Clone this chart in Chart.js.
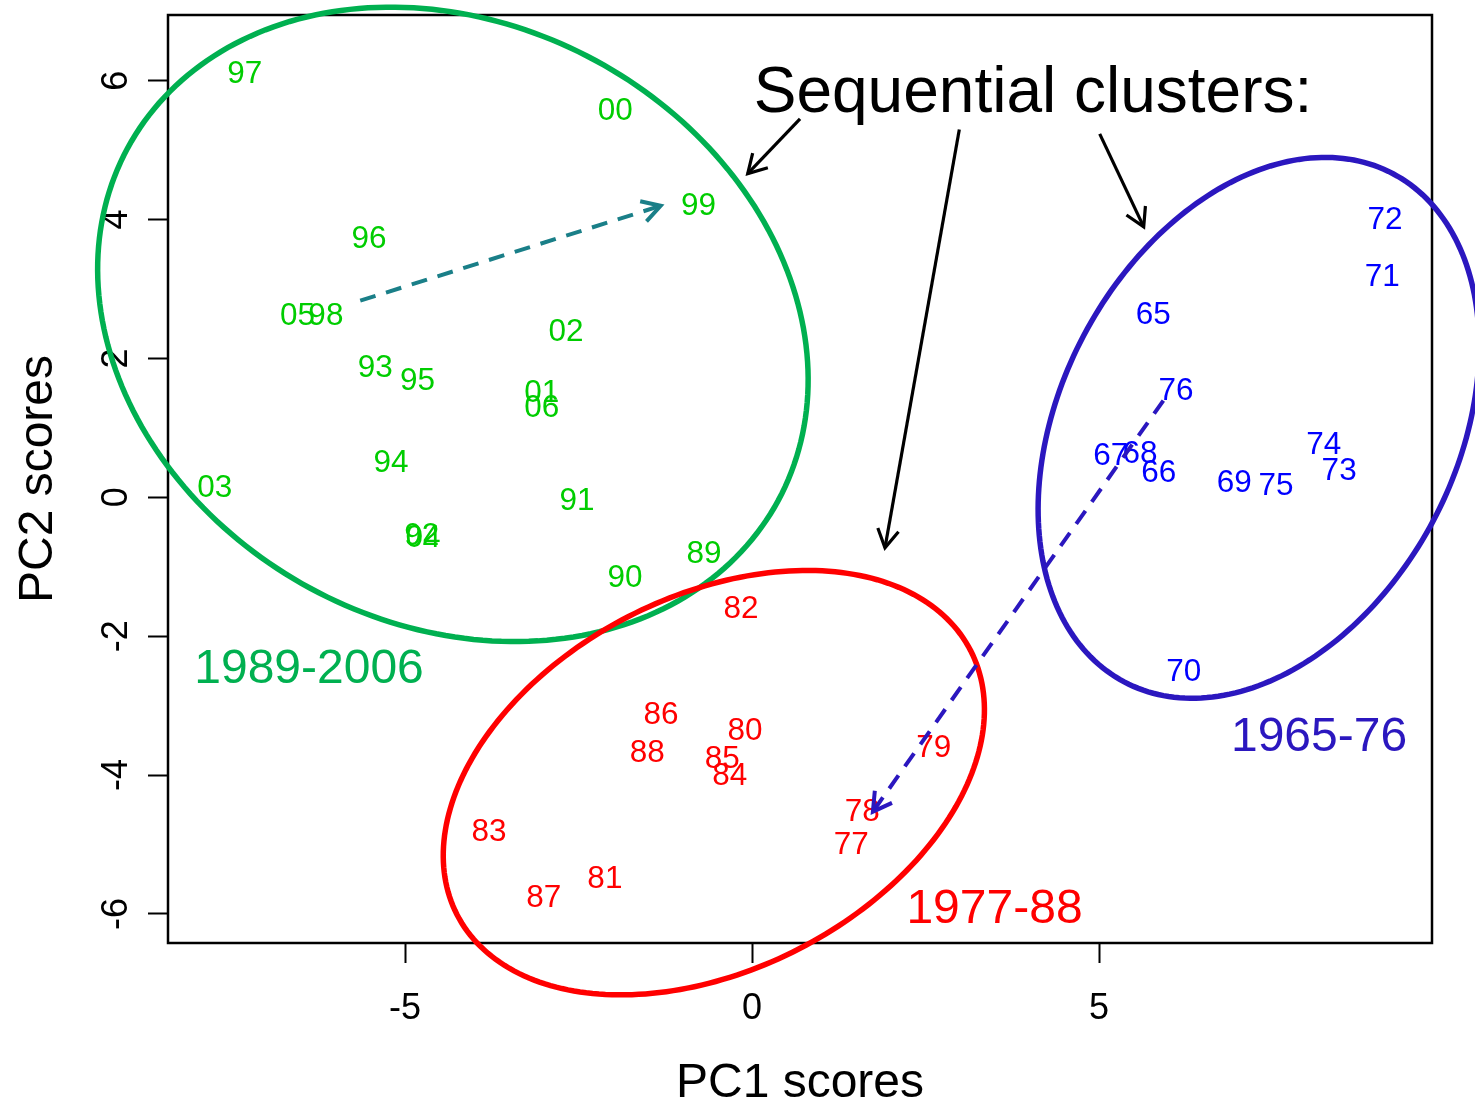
<!DOCTYPE html>
<html>
<head>
<meta charset="utf-8">
<title>PCA scores by year</title>
<script src="https://cdn.jsdelivr.net/npm/chart.js@4.4.1/dist/chart.umd.min.js"></script>
<style>
    html, body { margin: 0; padding: 0; background: #ffffff; }
    #pcaChart { display: block; }
</style>
</head>
<body>
<canvas id="pcaChart" width="1475" height="1102"></canvas>
<script>
// ==================================================
// DATA
// ==================================================
// 1989-2006
const recentYears = ["97", "00", "99", "96", "05", "98", "02", "93", "95", "01", "06", "94", "03", "91", "92", "04", "89", "90"];
const recentPC1 = [-7.31, -1.97, -0.77, -5.52, -6.55, -6.14, -2.68, -5.43, -4.82, -3.03, -3.03, -5.20, -7.74, -2.52, -4.76, -4.74, -0.69, -1.83];
const recentPC2 = [6.13, 5.60, 4.23, 3.75, 2.64, 2.64, 2.41, 1.89, 1.71, 1.53, 1.32, 0.52, 0.16, -0.02, -0.53, -0.55, -0.78, -1.13];

// 1977-88
const middleYears = ["82", "86", "80", "88", "85", "84", "79", "78", "77", "83", "81", "87"];
const middlePC1 = [-0.16, -1.31, -0.10, -1.51, -0.43, -0.32, 2.62, 1.59, 1.43, -3.79, -2.12, -3.00];
const middlePC2 = [-1.58, -3.10, -3.34, -3.65, -3.74, -3.98, -3.58, -4.50, -4.98, -4.79, -5.47, -5.74];

// 1965-76
const earlyYears = ["72", "71", "65", "76", "67", "68", "66", "69", "75", "74", "73", "70"];
const earlyPC1 = [9.12, 9.08, 5.78, 6.11, 5.17, 5.59, 5.86, 6.95, 7.55, 8.24, 8.46, 6.22];
const earlyPC2 = [4.03, 3.21, 2.66, 1.56, 0.63, 0.66, 0.38, 0.24, 0.19, 0.79, 0.41, -2.49];

// axis ticks and limits
const xTicks = [-5, 0, 5];
const yTicks = [-6, -4, -2, 0, 2, 4, 6];
const xLimits = [-8.415, 9.798];
const yLimits = [-6.419, 6.945];

// cluster ellipses: centre, semi-axes, tilt (degrees, anticlockwise)
const ellipseCx = [-4.31, -0.55, 7.30];
const ellipseCy = [2.49, -4.11, 1.00];
const ellipseRx = [5.33, 4.16, 4.14];
const ellipseRy = [4.32, 2.69, 2.85];
const ellipseTilt = [-28.4, 27.2, 62.1];

// period labels
const periodNames = ["1989-2006", "1977-88", "1965-76"];
const periodX = [-6.383, 3.494, 8.170];
const periodY = [-2.673, -6.131, -3.653];

// trend arrows (start -> end) inside clusters, and callout arrows
const trendFrom = [[-5.645, 2.831], [5.927, 1.393]];
const trendTo = [[-1.316, 4.197], [1.742, -4.527]];
const calloutFrom = [[0.692, 5.450], [2.987, 5.295], [5.010, 5.233]];
const calloutTo = [[-0.062, 4.661], [1.916, -0.728], [5.644, 3.893]];
const calloutText = "Sequential clusters:";
const calloutPos = [4.049, 5.555];

// ==================================================
// STYLE
// ==================================================
const FONT = '"Liberation Sans", Arial, Helvetica, sans-serif';
const labelColors = ["#00cd00", "#ff0000", "#0000ff"];
const ellipseColors = ["#00b050", "#ff0000", "#2b17bf"];
const trendColors = ["#1a7f88", "#2b17bf"];

function toPoints(xs, ys) {
    return xs.map((x, i) => ({ x: x, y: ys[i] }));
}

// ==================================================
// DRAWING HELPERS
// ==================================================
function drawArrow(ctx, x0, y0, x1, y1, color, width, dash) {
    ctx.save();
    ctx.strokeStyle = color;
    ctx.lineWidth = width;
    ctx.lineCap = "butt";
    ctx.setLineDash(dash || []);
    ctx.beginPath();
    ctx.moveTo(x0, y0);
    ctx.lineTo(x1, y1);
    ctx.stroke();

    // open arrow head, 30 degrees each side
    const ang = Math.atan2(y1 - y0, x1 - x0);
    const len = 21;
    ctx.setLineDash([]);
    ctx.lineJoin = "miter";
    ctx.beginPath();
    ctx.moveTo(x1 - len * Math.cos(ang - Math.PI / 6), y1 - len * Math.sin(ang - Math.PI / 6));
    ctx.lineTo(x1, y1);
    ctx.lineTo(x1 - len * Math.cos(ang + Math.PI / 6), y1 - len * Math.sin(ang + Math.PI / 6));
    ctx.stroke();
    ctx.restore();
}

function drawEllipse(ctx, xs, ys, i) {
    const phi = ellipseTilt[i] * Math.PI / 180;
    const steps = 240;
    ctx.save();
    ctx.strokeStyle = ellipseColors[i];
    ctx.lineWidth = 5.5;
    ctx.beginPath();
    for (let k = 0; k <= steps; k++) {
        const t = (k / steps) * Math.PI * 2;
        const ex = ellipseCx[i] + ellipseRx[i] * Math.cos(t) * Math.cos(phi) - ellipseRy[i] * Math.sin(t) * Math.sin(phi);
        const ey = ellipseCy[i] + ellipseRx[i] * Math.cos(t) * Math.sin(phi) + ellipseRy[i] * Math.sin(t) * Math.cos(phi);
        const px = xs.getPixelForValue(ex);
        const py = ys.getPixelForValue(ey);
        if (k === 0) ctx.moveTo(px, py); else ctx.lineTo(px, py);
    }
    ctx.closePath();
    ctx.stroke();
    ctx.restore();
}

// ==================================================
// PLUGIN: frame, axis text, year labels, overlays
// ==================================================
const pcaPlugin = {
    id: "pcaPlugin",
    beforeDraw(chart) {
        const ctx = chart.ctx;
        ctx.save();
        ctx.fillStyle = "#ffffff";
        ctx.fillRect(0, 0, chart.width, chart.height);
        ctx.restore();
    },
    afterDatasetsDraw(chart) {
        const ctx = chart.ctx;
        const fs = 31.5;
        ctx.save();
        ctx.font = fs + "px " + FONT;
        ctx.textAlign = "center";
        ctx.textBaseline = "alphabetic";
        chart.data.datasets.forEach((ds, i) => {
            const meta = chart.getDatasetMeta(i);
            ctx.fillStyle = ds.labelColor;
            meta.data.forEach((pt, j) => {
                // centre the digits vertically on the point
                ctx.fillText(ds.yearLabels[j], pt.x, pt.y + fs * 0.358);
            });
        });
        ctx.restore();
    },
    afterDraw(chart) {
        const ctx = chart.ctx;
        const area = chart.chartArea;
        const xs = chart.scales.x;
        const ys = chart.scales.y;

        // plot box
        ctx.save();
        ctx.strokeStyle = "#000000";
        ctx.lineWidth = 2.5;
        ctx.strokeRect(area.left, area.top, area.right - area.left, area.bottom - area.top);

        // tick labels
        ctx.fillStyle = "#000000";
        ctx.font = "36px " + FONT;
        ctx.textAlign = "center";
        ctx.textBaseline = "alphabetic";
        xTicks.forEach(v => {
            ctx.fillText(String(v), xs.getPixelForValue(v), 1019);
        });
        yTicks.forEach(v => {
            ctx.save();
            ctx.translate(127, ys.getPixelForValue(v));
            ctx.rotate(-Math.PI / 2);
            ctx.fillText(String(v), 0, 0);
            ctx.restore();
        });

        // axis titles
        ctx.font = "48px " + FONT;
        ctx.fillText("PC1 scores", (area.left + area.right) / 2, 1097);
        ctx.save();
        ctx.translate(52, (area.top + area.bottom) / 2);
        ctx.rotate(-Math.PI / 2);
        ctx.fillText("PC2 scores", 0, 0);
        ctx.restore();
        ctx.restore();

        // cluster ellipses
        for (let i = 0; i < ellipseCx.length; i++) {
            drawEllipse(ctx, xs, ys, i);
        }

        // trend arrows
        trendFrom.forEach((p, i) => {
            drawArrow(ctx,
                xs.getPixelForValue(p[0]), ys.getPixelForValue(p[1]),
                xs.getPixelForValue(trendTo[i][0]), ys.getPixelForValue(trendTo[i][1]),
                trendColors[i], 4, [16, 11]);
        });

        // callout arrows
        calloutFrom.forEach((p, i) => {
            drawArrow(ctx,
                xs.getPixelForValue(p[0]), ys.getPixelForValue(p[1]),
                xs.getPixelForValue(calloutTo[i][0]), ys.getPixelForValue(calloutTo[i][1]),
                "#000000", 3.2);
        });

        // period names
        ctx.save();
        ctx.font = "48px " + FONT;
        ctx.textAlign = "center";
        ctx.textBaseline = "alphabetic";
        periodNames.forEach((name, i) => {
            ctx.fillStyle = ellipseColors[i];
            ctx.fillText(name, xs.getPixelForValue(periodX[i]), ys.getPixelForValue(periodY[i]));
        });

        ctx.fillStyle = "#000000";
        ctx.font = "64px " + FONT;
        ctx.fillText(calloutText, xs.getPixelForValue(calloutPos[0]), ys.getPixelForValue(calloutPos[1]));
        ctx.restore();
    }
};

// ==================================================
// CHART
// ==================================================
const tickGrid = {
    drawOnChartArea: false,
    drawTicks: true,
    tickLength: 20,
    tickWidth: 2,
    tickColor: "#000000"
};

new Chart(document.getElementById("pcaChart"), {
    type: "scatter",
    data: {
        datasets: [
            { label: "1989-2006", data: toPoints(recentPC1, recentPC2), yearLabels: recentYears, labelColor: labelColors[0], pointRadius: 0 },
            { label: "1977-88", data: toPoints(middlePC1, middlePC2), yearLabels: middleYears, labelColor: labelColors[1], pointRadius: 0 },
            { label: "1965-76", data: toPoints(earlyPC1, earlyPC2), yearLabels: earlyYears, labelColor: labelColors[2], pointRadius: 0 }
        ]
    },
    options: {
        responsive: false,
        devicePixelRatio: 1,
        animation: false,
        events: [],
        layout: { padding: { top: 15, right: 43, bottom: 0, left: 0 } },
        plugins: {
            legend: { display: false },
            tooltip: { enabled: false }
        },
        scales: {
            x: {
                type: "linear",
                position: "bottom",
                min: xLimits[0],
                max: xLimits[1],
                afterBuildTicks: s => { s.ticks = xTicks.map(v => ({ value: v })); },
                afterFit: s => { s.height = 159; },
                grid: tickGrid,
                border: { display: false },
                ticks: { display: false }
            },
            y: {
                type: "linear",
                position: "left",
                min: yLimits[0],
                max: yLimits[1],
                afterBuildTicks: s => { s.ticks = yTicks.map(v => ({ value: v })); },
                afterFit: s => { s.width = 168; },
                grid: tickGrid,
                border: { display: false },
                ticks: { display: false }
            }
        }
    },
    plugins: [pcaPlugin]
});
</script>
</body>
</html>
